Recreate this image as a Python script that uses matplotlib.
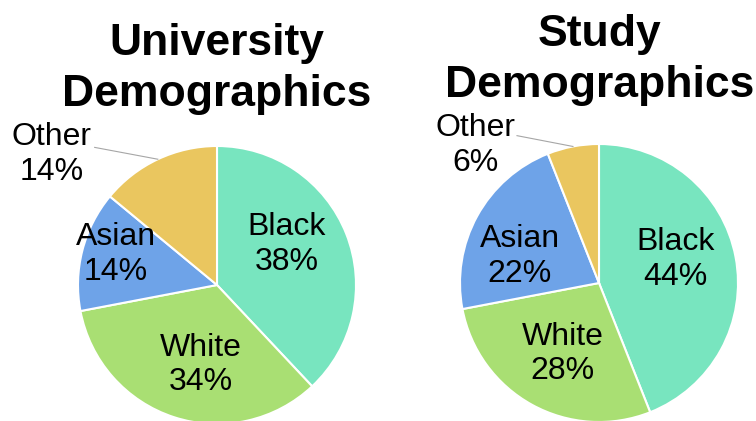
import numpy as np
import matplotlib
matplotlib.use("Agg")
import matplotlib.pyplot as plt

plt.rcParams['font.family'] = ['Liberation Sans', 'DejaVu Sans']

# data
categories = ["Black", "White", "Asian", "Other"]
university_share = [38, 34, 14, 14]
study_share = [44, 28, 22, 6]
titles = ["University\nDemographics", "Study\nDemographics"]

colors = ["#78E5BF", "#A9DF73", "#6EA3E8", "#EAC65F"]

# layout, in pixels of the 756x421 canvas: pie centre x, centre y (from top), radius
W, H = 756, 421
pie_boxes = [(217, 285, 139), (599, 283, 139)]
title_pos = [(217, 106), (600, 97)]  # centre x, baseline of last line
# label centres in pie units (radius = 1)
label_xy = [
    [(0.50, 0.29), (-0.115, -0.575), (-0.73, 0.22), (-1.19, 0.94)],
    [(0.55, 0.17), (-0.26, -0.51), (-0.57, 0.19), (-0.89, 0.99)],
]
leader_start = [(-0.88, 0.99), (-0.59, 1.06)]

fig = plt.figure(figsize=(W / 100, H / 100), dpi=100)

for k, shares in enumerate([university_share, study_share]):
    cx, cy, r = pie_boxes[k]
    ax = fig.add_axes([(cx - r) / W, (H - cy - r) / H, 2 * r / W, 2 * r / H])
    ax.pie(shares, colors=colors, startangle=90, counterclock=False, radius=1,
           wedgeprops=dict(edgecolor="white", linewidth=1.5))
    ax.set_xlim(-1, 1)
    ax.set_ylim(-1, 1)

    for cat, val, (lx, ly) in zip(categories, shares, label_xy[k]):
        ax.text(lx, ly, f"{cat}\n{val}%", ha="center", va="center",
                multialignment="center", fontsize=23, linespacing=1.2, color="black")

    # leader line for the small "Other" slice, ending at its mid angle
    cum = np.cumsum(shares)
    mid = cum[-1] - shares[-1] / 2
    theta = np.deg2rad(90 - 360 * mid / sum(shares))
    sx, sy = leader_start[k]
    ax.plot([sx, np.cos(theta)], [sy, np.sin(theta)], color="#A6A6A6",
            linewidth=0.8, clip_on=False)

    tx, ty = title_pos[k]
    fig.text(tx / W, (H - ty) / H, titles[k], ha="center", va="baseline",
             multialignment="center", fontsize=32, fontweight="bold", linespacing=1.3)

fig.savefig("out.png", dpi=100)
